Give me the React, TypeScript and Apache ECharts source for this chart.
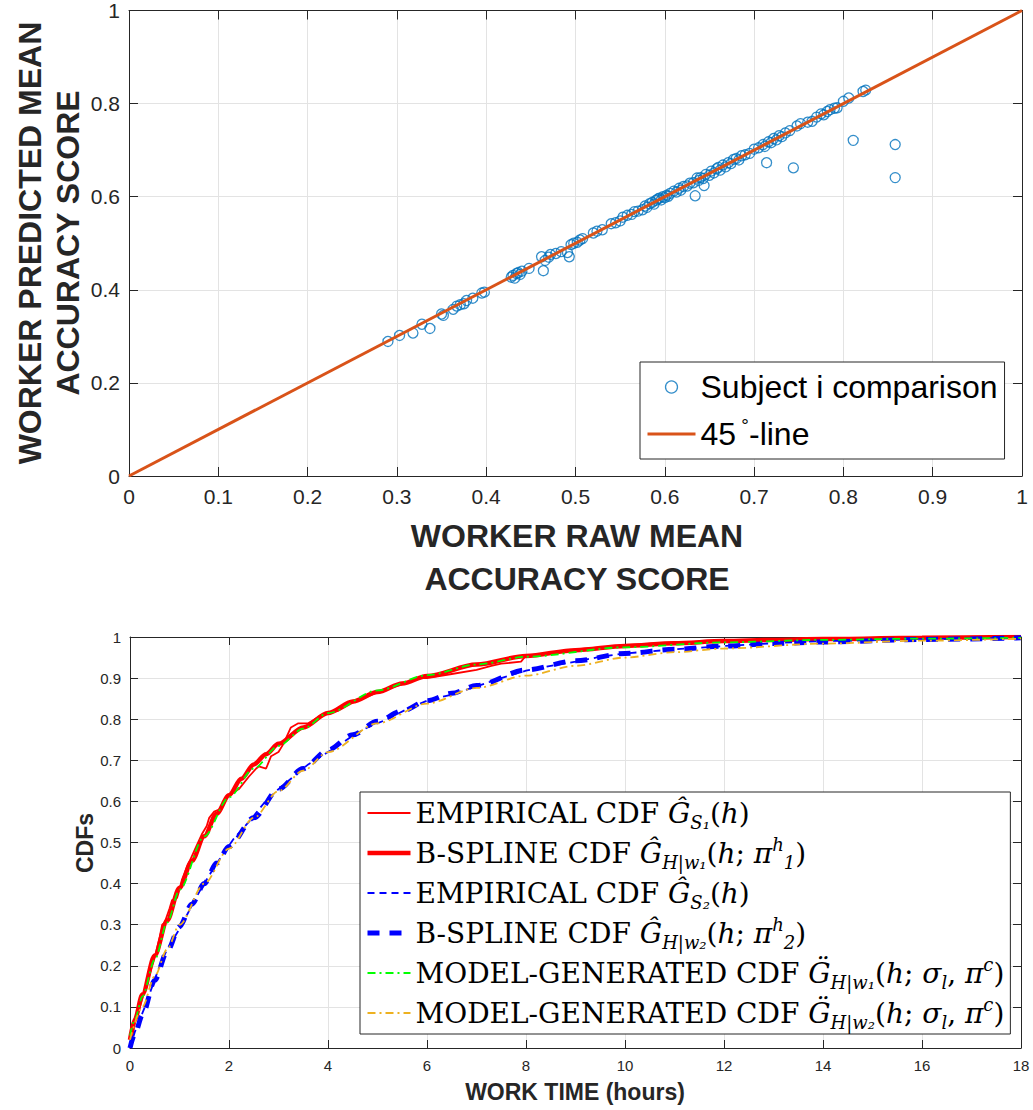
import React, { useEffect, useRef } from "react";
import * as echarts from "echarts";

// ---------- Top chart data ----------
const scatterX = [
  0.29, 0.303, 0.318, 0.328, 0.337, 0.35, 0.352, 0.363, 0.367, 0.371, 0.375, 0.378, 0.385, 0.395, 0.398,
  0.428, 0.43, 0.432, 0.434, 0.436, 0.438, 0.44, 0.448, 0.462, 0.464, 0.466, 0.47, 0.472, 0.478, 0.484,
  0.491, 0.493, 0.495, 0.498, 0.502, 0.505, 0.508, 0.52, 0.524, 0.53, 0.54, 0.545, 0.55, 0.553, 0.558,
  0.563, 0.566, 0.57, 0.575, 0.578, 0.58, 0.583, 0.586, 0.588, 0.59, 0.592, 0.594, 0.596, 0.598, 0.6,
  0.602, 0.604, 0.606, 0.61, 0.613, 0.616, 0.618, 0.621, 0.625, 0.628, 0.632, 0.634, 0.636, 0.638, 0.64,
  0.643, 0.644, 0.646, 0.65, 0.652, 0.655, 0.658, 0.66, 0.662, 0.665, 0.668, 0.671, 0.674, 0.677, 0.68,
  0.683, 0.686, 0.69, 0.695, 0.7, 0.705, 0.71, 0.712, 0.714, 0.716, 0.719, 0.722, 0.725, 0.728, 0.731,
  0.735, 0.74, 0.744, 0.748, 0.752, 0.76, 0.765, 0.77, 0.775, 0.778, 0.782, 0.785, 0.79, 0.793, 0.8,
  0.806, 0.811, 0.822, 0.825, 0.858, 0.858,
];
const scatterY = [
  0.289, 0.302, 0.307, 0.326, 0.317, 0.348, 0.345, 0.358, 0.365, 0.368, 0.37, 0.377, 0.382, 0.393, 0.395,
  0.427, 0.431, 0.425, 0.435, 0.437, 0.433, 0.44, 0.446, 0.471, 0.441, 0.463, 0.47, 0.476, 0.478, 0.482,
  0.48, 0.471, 0.497, 0.5, 0.502, 0.507, 0.51, 0.522, 0.526, 0.529, 0.542, 0.544, 0.548, 0.556, 0.56,
  0.562, 0.568, 0.569, 0.572, 0.58, 0.577, 0.585, 0.588, 0.584, 0.592, 0.595, 0.597, 0.593, 0.6, 0.598,
  0.603, 0.601, 0.607, 0.612, 0.61, 0.618, 0.614, 0.622, 0.623, 0.629, 0.63, 0.602, 0.64, 0.635, 0.641,
  0.639, 0.624, 0.648, 0.646, 0.655, 0.651, 0.66, 0.663, 0.657, 0.668, 0.664, 0.673, 0.671, 0.68, 0.682,
  0.679, 0.688, 0.69, 0.693, 0.702, 0.705, 0.712, 0.708, 0.673, 0.718, 0.716, 0.725, 0.722, 0.731, 0.729,
  0.737, 0.742, 0.662, 0.752, 0.757, 0.76, 0.762, 0.771, 0.778, 0.776, 0.783, 0.787, 0.79, 0.791, 0.805,
  0.812, 0.721, 0.826, 0.829, 0.712, 0.641,
];
const diagX = [0, 1];
const diagY = [0, 1];

// ---------- Bottom chart data ----------
const redEmpT = [
  0, 0.05, 0.1, 0.2, 0.3, 0.4, 0.5, 0.6, 0.65, 0.7, 0.8, 0.85, 0.95, 1.0, 1.05, 1.15, 1.3, 1.45, 1.55, 1.6,
  1.7, 1.8, 1.9, 2.0, 2.2, 2.4, 2.55, 2.6, 2.75, 2.85, 3.0, 3.1, 3.25, 3.4, 3.6, 3.8, 4.0, 4.2, 4.5, 5.0,
  5.5, 5.8, 6.0, 6.5, 7.0, 7.3, 7.5, 7.9, 8.0, 8.5, 9.0, 9.5, 10, 11, 12, 13, 14, 16, 18,
];
const redEmpV = [
  0, 0.03, 0.06, 0.1, 0.14, 0.18, 0.22, 0.27, 0.3, 0.305, 0.34, 0.36, 0.365, 0.385, 0.41, 0.44, 0.48, 0.52, 0.54, 0.56,
  0.575, 0.58, 0.6, 0.615, 0.63, 0.66, 0.68, 0.685, 0.68, 0.71, 0.72, 0.74, 0.78, 0.79, 0.79, 0.805, 0.815, 0.82, 0.84, 0.865,
  0.885, 0.9, 0.9, 0.91, 0.92, 0.93, 0.935, 0.94, 0.955, 0.96, 0.97, 0.975, 0.98, 0.987, 0.99, 0.992, 0.995, 0.998, 1.0,
];
const redSplT = [0, 0.1, 0.25, 0.5, 0.75, 1, 1.25, 1.5, 1.75, 2, 2.25, 2.5, 2.75, 3, 3.5, 4, 4.5, 5, 5.5, 6, 7, 8, 9, 10, 11, 12, 13, 14, 16, 18];
const redSplV = [
  0.02, 0.07, 0.13, 0.225, 0.31, 0.39, 0.455, 0.515, 0.57, 0.615, 0.655, 0.69, 0.715, 0.74, 0.78, 0.815, 0.843, 0.866,
  0.887, 0.905, 0.933, 0.954, 0.968, 0.978, 0.985, 0.99, 0.993, 0.995, 0.998, 1.0,
];
const blueEmpT = [
  0, 0.05, 0.1, 0.2, 0.3, 0.45, 0.6, 0.75, 0.85, 1.0, 1.2, 1.4, 1.55, 1.7, 1.9, 2.1, 2.4, 2.7, 3.0, 3.3,
  3.6, 4.0, 4.2, 4.5, 4.8, 5.2, 5.6, 6.0, 6.5, 7.0, 7.5, 8, 8.5, 9, 9.5, 10, 11, 12, 13, 14, 15, 16, 18,
];
const blueEmpV = [
  0, 0.02, 0.04, 0.07, 0.1, 0.15, 0.2, 0.24, 0.26, 0.29, 0.335, 0.38, 0.41, 0.44, 0.475, 0.51, 0.55, 0.595, 0.63, 0.66,
  0.69, 0.72, 0.735, 0.76, 0.78, 0.8, 0.825, 0.845, 0.86, 0.88, 0.9, 0.918, 0.93, 0.94, 0.952, 0.96, 0.97, 0.978, 0.985, 0.99,
  0.992, 0.995, 0.998,
];
const blueSplT = [0, 0.1, 0.25, 0.5, 0.75, 1, 1.25, 1.5, 1.75, 2, 2.5, 3, 3.5, 4, 4.5, 5, 5.5, 6, 6.5, 7, 8, 9, 10, 11, 12, 13, 14, 16, 18];
const blueSplV = [
  0.0, 0.035, 0.08, 0.165, 0.235, 0.295, 0.35, 0.4, 0.45, 0.49, 0.56, 0.63, 0.68, 0.725, 0.762, 0.795, 0.82, 0.845,
  0.863, 0.882, 0.92, 0.942, 0.96, 0.97, 0.978, 0.984, 0.988, 0.994, 0.998,
];
const greenT = [0, 0.1, 0.25, 0.5, 0.75, 1, 1.5, 2, 2.5, 3, 3.5, 4, 5, 6, 7, 8, 10, 12, 14, 16, 18];
const greenV = [0.03, 0.07, 0.125, 0.215, 0.305, 0.385, 0.515, 0.61, 0.68, 0.735, 0.777, 0.815, 0.87, 0.907, 0.933, 0.952, 0.975, 0.987, 0.993, 0.996, 0.998];
const orangeT = [0, 0.25, 0.5, 0.75, 1, 1.5, 2, 2.5, 3, 3.5, 4, 5, 6, 7, 8, 9, 10, 11, 12, 14, 16, 18];
const orangeV = [0.02, 0.1, 0.175, 0.24, 0.3, 0.4, 0.485, 0.56, 0.625, 0.675, 0.72, 0.79, 0.838, 0.876, 0.906, 0.93, 0.95, 0.963, 0.972, 0.984, 0.991, 0.996];

const topNames = ["Subject i comparison", "45°-line"];
const cdfNames = [
  "EMPIRICAL CDF Ĝ_S1(h)",
  "B-SPLINE CDF Ĝ_H|w1(h; π1h)",
  "EMPIRICAL CDF Ĝ_S2(h)",
  "B-SPLINE CDF Ĝ_H|w2(h; π2h)",
  "MODEL-GENERATED CDF G̈_H|w1(h; σl, πc)",
  "MODEL-GENERATED CDF G̈_H|w2(h; σl, πc)",
];
const cdfRich = [
  "{n|EMPIRICAL CDF }{i|Ĝ}{s|S₁}{n|(}{i|h}{n|)}",
  "{n|B-SPLINE CDF }{i|Ĝ}{s|H|w₁}{n|(}{i|h}{n|; }{i|π}{p|h}{s|1}{n|)}",
  "{n|EMPIRICAL CDF }{i|Ĝ}{s|S₂}{n|(}{i|h}{n|)}",
  "{n|B-SPLINE CDF }{i|Ĝ}{s|H|w₂}{n|(}{i|h}{n|; }{i|π}{p|h}{s|2}{n|)}",
  "{n|MODEL-GENERATED CDF }{i|G̈}{s|H|w₁}{n|(}{i|h}{n|; }{i|σ}{s|l}{n|, }{i|π}{p|c}{n|)}",
  "{n|MODEL-GENERATED CDF }{i|G̈}{s|H|w₂}{n|(}{i|h}{n|; }{i|σ}{s|l}{n|, }{i|π}{p|c}{n|)}",
];
const cdfLegendWidths = [1.8, 4.5, 1.8, 5, 1.8, 1.8];

const zip = (a: number[], b: number[]) => a.map((v, i) => [v, b[i]]);

const AX = "#262626";
const GRIDC = "#e3e3e3";
const SANS = "Liberation Sans";
const SERIF = "DejaVu Serif";
const HIDE = { color: "rgba(0,0,0,0)", borderWidth: 0, opacity: 0 };

function mkX(grid: number, min: number, max: number, interval: number, main: boolean, fs: number, tick: number) {
  return {
    type: "value",
    gridIndex: grid,
    min,
    max,
    interval,
    position: main ? "bottom" : "top",
    axisLine: { show: true, onZero: false, lineStyle: { color: AX, width: 1 } },
    axisTick: { show: true, inside: true, length: tick, lineStyle: { color: AX } },
    axisLabel: { show: main, fontSize: fs, color: AX, fontFamily: SANS, margin: 10 },
    splitLine: { show: main, lineStyle: { color: GRIDC, width: 1 } },
  };
}
function mkY(grid: number, min: number, max: number, interval: number, main: boolean, fs: number, tick: number) {
  return {
    type: "value",
    gridIndex: grid,
    min,
    max,
    interval,
    position: main ? "left" : "right",
    axisLine: { show: true, onZero: false, lineStyle: { color: AX, width: 1 } },
    axisTick: { show: true, inside: true, length: tick, lineStyle: { color: AX } },
    axisLabel: { show: main, fontSize: fs, color: AX, fontFamily: SANS, margin: 9 },
    splitLine: { show: main, lineStyle: { color: GRIDC, width: 1 } },
  };
}

export default function App() {
  const ref = useRef<HTMLDivElement>(null);
  useEffect(() => {
    const chart = echarts.init(ref.current!, null, { renderer: "svg" });
    const richMap: Record<string, string> = {};
    cdfNames.forEach((n, i) => (richMap[n] = cdfRich[i]));

    const option: any = {
      animation: false,
      backgroundColor: "#ffffff",
      grid: [
        { left: 129, top: 10, width: 893, height: 466 },
        { left: 130, top: 637, width: 891, height: 411 },
      ],
      xAxis: [
        mkX(0, 0, 1, 0.1, true, 21, 9),
        mkX(0, 0, 1, 0.1, false, 21, 9),
        mkX(1, 0, 18, 2, true, 15, 8),
        mkX(1, 0, 18, 2, false, 15, 8),
      ],
      yAxis: [
        mkY(0, 0, 1, 0.2, true, 21, 9),
        mkY(0, 0, 1, 0.2, false, 21, 9),
        mkY(1, 0, 1, 0.1, true, 15, 8),
        mkY(1, 0, 1, 0.1, false, 15, 8),
      ],
      legend: [
        {
          data: [
            { name: topNames[0], itemStyle: { borderWidth: 1.3 } },
            { name: topNames[1], lineStyle: { width: 3 }, itemStyle: HIDE },
          ],
          orient: "vertical",
          left: 640,
          top: 362,
          padding: [7, 7, 7, 6],
          itemWidth: 48,
          itemHeight: 12,
          itemGap: 11,
          backgroundColor: "#ffffff",
          borderColor: AX,
          borderWidth: 1,
          borderRadius: 0,
          selectedMode: false,
          textStyle: {
            fontFamily: SANS,
            fontSize: 32,
            color: "#000",
            lineHeight: 36,
            rich: { deg: { fontFamily: SANS, fontSize: 19, lineHeight: 19, verticalAlign: "top", color: "#000" } },
          },
          formatter: (name: string) => (name === topNames[1] ? "45{deg| °}-line" : name),
        },
        {
          data: cdfNames.map((n, i) => ({
            name: n,
            lineStyle: { width: cdfLegendWidths[i] },
            itemStyle: HIDE,
          })),
          orient: "vertical",
          left: 360,
          top: 792,
          padding: [3, 6, 3, 5],
          itemWidth: 43,
          itemHeight: 10,
          itemGap: 4,
          backgroundColor: "#ffffff",
          borderColor: AX,
          borderWidth: 1,
          selectedMode: false,
          formatter: (name: string) => richMap[name] || name,
          textStyle: {
            fontFamily: SERIF,
            fontSize: 28,
            color: "#000",
            lineHeight: 36,
            rich: {
              n: { fontFamily: SERIF, fontSize: 28, color: "#000", lineHeight: 36 },
              i: { fontFamily: SERIF, fontStyle: "italic", fontSize: 28, color: "#000", lineHeight: 36 },
              s: { fontFamily: SERIF, fontStyle: "italic", fontSize: 18, color: "#000", lineHeight: 17, verticalAlign: "bottom" },
              p: { fontFamily: SERIF, fontStyle: "italic", fontSize: 18, color: "#000", lineHeight: 17, verticalAlign: "top" },
            },
          },
        },
      ],
      series: [
        {
          name: topNames[0],
          type: "scatter",
          xAxisIndex: 0,
          yAxisIndex: 0,
          data: zip(scatterX, scatterY),
          symbol: "circle",
          symbolSize: 10,
          itemStyle: { color: "rgba(0,0,0,0)", borderColor: "#0072BD", borderWidth: 1.3 },
          emphasis: { disabled: true },
        },
        {
          name: topNames[1],
          type: "line",
          xAxisIndex: 0,
          yAxisIndex: 0,
          data: zip(diagX, diagY),
          symbol: "none",
          lineStyle: { color: "#D95319", width: 3 },
          itemStyle: { color: "#D95319" },
        },
        {
          name: cdfNames[0],
          type: "line",
          xAxisIndex: 2,
          yAxisIndex: 2,
          data: zip(redEmpT, redEmpV),
          symbol: "none",
          lineStyle: { color: "#FF0000", width: 1.8 },
          itemStyle: { color: "#FF0000" },
        },
        {
          name: cdfNames[1],
          type: "line",
          xAxisIndex: 2,
          yAxisIndex: 2,
          data: zip(redSplT, redSplV),
          symbol: "none",
          smooth: 0.3,
          smoothMonotone: "x",
          lineStyle: { color: "#FF0000", width: 4.5 },
          itemStyle: { color: "#FF0000" },
        },
        {
          name: cdfNames[2],
          type: "line",
          xAxisIndex: 2,
          yAxisIndex: 2,
          data: zip(blueEmpT, blueEmpV),
          symbol: "none",
          lineStyle: { color: "#0000FF", width: 1.8, type: [7, 5] },
          itemStyle: { color: "#0000FF" },
        },
        {
          name: cdfNames[3],
          type: "line",
          xAxisIndex: 2,
          yAxisIndex: 2,
          data: zip(blueSplT, blueSplV),
          symbol: "none",
          smooth: 0.3,
          smoothMonotone: "x",
          lineStyle: { color: "#0000FF", width: 5, type: [12, 10] },
          itemStyle: { color: "#0000FF" },
        },
        {
          name: cdfNames[4],
          type: "line",
          xAxisIndex: 2,
          yAxisIndex: 2,
          data: zip(greenT, greenV),
          symbol: "none",
          smooth: 0.3,
          smoothMonotone: "x",
          lineStyle: { color: "#00FF00", width: 1.8, type: [8, 4, 2, 4] },
          itemStyle: { color: "#00FF00" },
        },
        {
          name: cdfNames[5],
          type: "line",
          xAxisIndex: 2,
          yAxisIndex: 2,
          data: zip(orangeT, orangeV),
          symbol: "none",
          smooth: 0.3,
          smoothMonotone: "x",
          lineStyle: { color: "#EDB120", width: 1.8, type: [8, 4, 2, 4] },
          itemStyle: { color: "#EDB120" },
        },
      ],
      graphic: [
        {
          type: "text",
          x: 49,
          y: 243,
          rotation: Math.PI / 2,
          style: {
            text: "WORKER PREDICTED MEAN\nACCURACY SCORE",
            font: `bold 32px "${SANS}"`,
            fill: AX,
            align: "center",
            verticalAlign: "middle",
            lineHeight: 38,
          },
        },
        {
          type: "text",
          x: 577,
          y: 557,
          style: {
            text: "WORKER RAW MEAN\nACCURACY SCORE",
            font: `bold 32px "${SANS}"`,
            fill: AX,
            align: "center",
            verticalAlign: "middle",
            lineHeight: 43,
          },
        },
        {
          type: "text",
          x: 85,
          y: 843,
          rotation: Math.PI / 2,
          style: {
            text: "CDFs",
            font: `bold 23px "${SANS}"`,
            fill: AX,
            align: "center",
            verticalAlign: "middle",
          },
        },
        {
          type: "text",
          x: 575,
          y: 1092,
          style: {
            text: "WORK TIME (hours)",
            font: `bold 23px "${SANS}"`,
            fill: AX,
            align: "center",
            verticalAlign: "middle",
          },
        },
      ],
    };
    chart.setOption(option);
    return () => chart.dispose();
  }, []);
  return <div ref={ref} style={{ position: "absolute", left: 0, top: 0, width: 1033, height: 1110 }} />;
}
